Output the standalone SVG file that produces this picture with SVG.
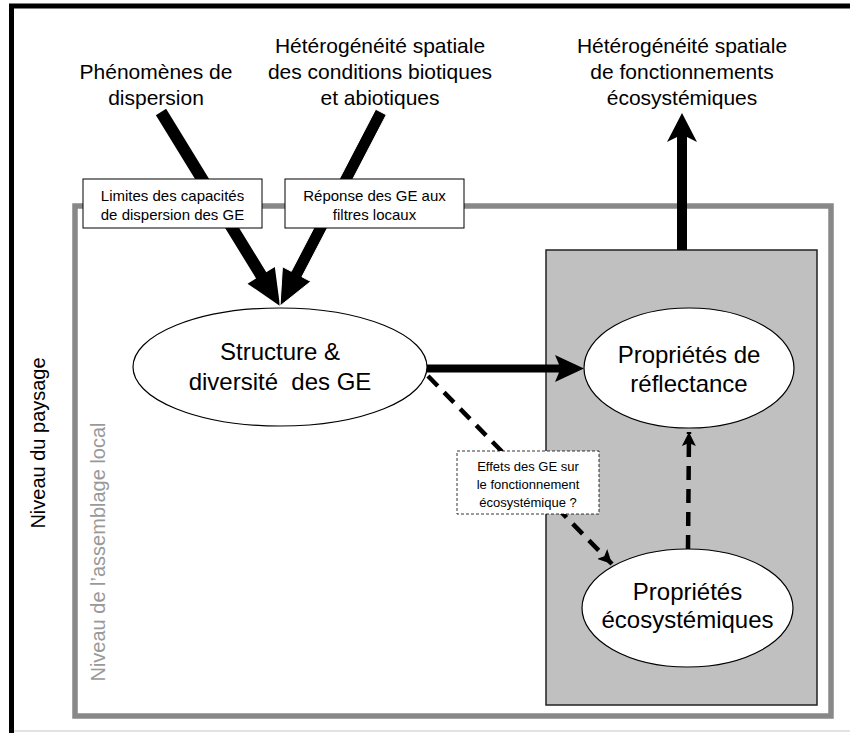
<svg xmlns="http://www.w3.org/2000/svg" width="850" height="733" viewBox="0 0 850 733">
<style>
  .title{font-family:"Liberation Sans",Arial,sans-serif;font-size:21px;fill:#000;text-anchor:middle}
  .node{font-family:"Liberation Sans",Arial,sans-serif;font-size:24px;fill:#000;text-anchor:middle}
  .box{font-family:"Liberation Sans",Arial,sans-serif;font-size:15px;fill:#000;text-anchor:middle}
  .dbox{font-family:"Liberation Sans",Arial,sans-serif;font-size:13px;fill:#000;text-anchor:middle}
  .side{font-family:"Liberation Sans",Arial,sans-serif;font-size:20px;text-anchor:middle}
  .ell{fill:#fff;stroke:#000;stroke-width:1.2}
  .thick{fill:#000}
  .dash{stroke:#000;stroke-width:4.5;stroke-dasharray:14 9;fill:none}
</style>
<defs>
  <marker id="dh" markerUnits="userSpaceOnUse" markerWidth="16" markerHeight="14" refX="14" refY="7" orient="auto">
    <path d="M0,0 L14,7 L0,14 L3,7 Z" fill="#000"/>
  </marker>
</defs>
<rect x="0" y="0" width="850" height="733" fill="#fff"/>

<!-- outer frame (landscape level) -->
<rect x="11.5" y="6" width="860" height="760" fill="none" stroke="#000" stroke-width="5"/>
<line x1="14" y1="731" x2="850" y2="731" stroke="#e2e2e2" stroke-width="2"/>

<!-- local assemblage frame -->
<rect x="75" y="206" width="756" height="510" fill="none" stroke="#888" stroke-width="5.5"/>

<!-- gray functioning box -->
<rect x="546" y="250" width="271" height="455" fill="#c0c0c0" stroke="#222" stroke-width="1.5"/>

<!-- side labels -->
<text class="side" transform="translate(45,443) rotate(-90)" fill="#000">Niveau du paysage</text>
<text class="side" transform="translate(105,552) rotate(-90)" font-size="20.5" fill="#999">Niveau de l’assemblage local</text>

<!-- titles -->
<g id="t-dispersion">
  <text class="title" x="156" y="79">Phénomènes de</text>
  <text class="title" x="156" y="105">dispersion</text>
</g>
<g id="t-heterogeneite">
  <text class="title" x="380" y="53">Hétérogénéité spatiale</text>
  <text class="title" x="380" y="79">des conditions biotiques</text>
  <text class="title" x="380" y="105">et abiotiques</text>
</g>
<g id="t-fonctionnement">
  <text class="title" x="682" y="53">Hétérogénéité spatiale</text>
  <text class="title" x="682" y="79">de fonctionnements</text>
  <text class="title" x="682" y="105">écosystémiques</text>
</g>

<!-- connectors -->
<g id="connectors">
  <polygon class="thick" points="155.89,115.14 256.07,278.45 247.54,283.68 280,306 274.82,266.95 266.29,272.17 166.11,108.86"/>
  <polygon class="thick" stroke="#fff" stroke-width="1" points="375.68,109.23 291.3,271.3 282.43,266.68 280,306 310.81,281.46 301.94,276.84 386.32,114.77"/>
  <polygon class="thick" points="677,250 677,137 667,142 682,113 697,142 687,137 687,250"/>
  <polygon class="thick" points="427,364.5 559,364.5 555,355 584,368.5 555,382 559,372.5 427,372.5"/>
  <line class="dash" x1="428" y1="376" x2="612" y2="564" marker-end="url(#dh)"/>
  <line class="dash" x1="688" y1="549" x2="689" y2="432" marker-end="url(#dh)"/>
</g>

<!-- boxes on arrows -->
<g id="n-limites">
  <rect x="83" y="179" width="179" height="49" fill="#fff" stroke="#000" stroke-width="1"/>
  <text class="box" x="172.5" y="201">Limites des capacités</text>
  <text class="box" x="172.5" y="220">de dispersion des GE</text>
</g>
<g id="n-reponse">
  <rect x="285" y="179" width="179" height="49" fill="#fff" stroke="#000" stroke-width="1"/>
  <text class="box" x="374.5" y="201">Réponse des GE aux</text>
  <text class="box" x="374.5" y="220">filtres locaux</text>
</g>
<g id="n-effets">
  <rect x="457" y="451" width="142" height="63" fill="#fff" stroke="#000" stroke-width="0.8" stroke-dasharray="3 2"/>
  <text class="dbox" x="528" y="471">Effets des GE sur</text>
  <text class="dbox" x="528" y="489">le fonctionnement</text>
  <text class="dbox" x="528" y="507">écosystémique ?</text>
</g>

<!-- ellipse nodes -->
<g id="n-structure">
  <ellipse class="ell" cx="280" cy="367" rx="147" ry="59"/>
  <text class="node" x="280" y="360">Structure &amp;</text>
  <text class="node" x="280" y="390" xml:space="preserve">diversité  des GE</text>
</g>
<g id="n-reflectance">
  <ellipse class="ell" cx="689" cy="368" rx="105" ry="60"/>
  <text class="node" x="689" y="363">Propriétés de</text>
  <text class="node" x="689" y="392">réflectance</text>
</g>
<g id="n-ecosysteme">
  <ellipse class="ell" cx="687.5" cy="608" rx="105.5" ry="59"/>
  <text class="node" x="687.5" y="600">Propriétés</text>
  <text class="node" x="687.5" y="628">écosystémiques</text>
</g>
</svg>
